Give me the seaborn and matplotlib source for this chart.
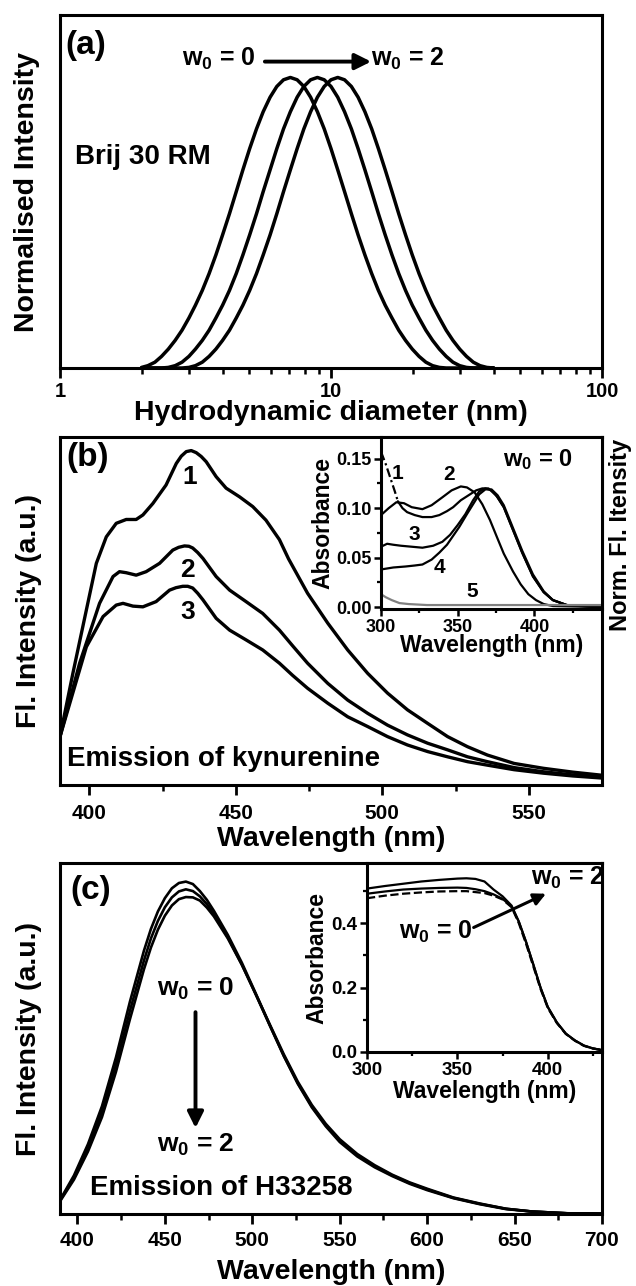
import matplotlib
matplotlib.use("Agg")
import matplotlib.pyplot as plt
import seaborn as sns
from matplotlib.ticker import (MultipleLocator, FixedLocator, NullFormatter,
                               FuncFormatter, LogLocator, FormatStrFormatter)

# ---------------- data ----------------
# (a) DLS size distributions (Brij 30 RM)
dia_a = [2.00, 2.11, 2.24, 2.37, 2.51, 2.66, 2.82, 2.99, 3.16, 3.35, 3.55, 3.76,
         3.98, 4.22, 4.47, 4.73, 5.01, 5.31, 5.62, 5.96, 6.31, 6.68, 7.08, 7.50,
         7.94, 8.41, 8.91, 9.44, 10.00, 10.59, 11.22, 11.89, 12.59, 13.34, 14.13,
         14.96, 15.85, 16.79, 17.78, 18.84, 19.95, 21.13, 22.39, 23.71, 25.12,
         26.61, 28.18, 29.85, 31.62, 33.50, 35.48, 37.58, 39.81]
int_a_w0 = [0.002, 0.008, 0.020, 0.040, 0.065, 0.095, 0.130, 0.172, 0.216, 0.267,
            0.325, 0.389, 0.458, 0.531, 0.607, 0.682, 0.755, 0.823, 0.882, 0.932,
            0.969, 0.992, 1.000, 0.992, 0.969, 0.932, 0.882, 0.823, 0.755, 0.682,
            0.607, 0.531, 0.458, 0.389, 0.325, 0.267, 0.216, 0.172, 0.130, 0.095,
            0.065, 0.040, 0.020, 0.008, 0.002, 0.0, 0.0, 0.0, 0.0, 0.0, 0.0, 0.0,
            0.0]
int_a_w1 = [0.0, 0.0, 0.0, 0.0, 0.002, 0.008, 0.020, 0.040, 0.065, 0.095, 0.130,
            0.172, 0.216, 0.267, 0.325, 0.389, 0.458, 0.531, 0.607, 0.682, 0.755,
            0.823, 0.882, 0.932, 0.969, 0.992, 1.000, 0.992, 0.969, 0.932, 0.882,
            0.823, 0.755, 0.682, 0.607, 0.531, 0.458, 0.389, 0.325, 0.267, 0.216,
            0.172, 0.130, 0.095, 0.065, 0.040, 0.020, 0.008, 0.002, 0.0, 0.0, 0.0,
            0.0]
int_a_w2 = [0.0, 0.0, 0.0, 0.0, 0.0, 0.0, 0.0, 0.002, 0.008, 0.020, 0.040, 0.065,
            0.095, 0.130, 0.172, 0.216, 0.267, 0.325, 0.389, 0.458, 0.531, 0.607,
            0.682, 0.755, 0.823, 0.882, 0.932, 0.969, 0.992, 1.000, 0.992, 0.969,
            0.932, 0.882, 0.823, 0.755, 0.682, 0.607, 0.531, 0.458, 0.389, 0.325,
            0.267, 0.216, 0.172, 0.130, 0.095, 0.065, 0.040, 0.020, 0.008, 0.002,
            0.0]
ticks_a = [1, 10, 100]

# (b) emission of kynurenine
b1_wl = [390, 394.4, 399, 402.4, 405.8, 409.2, 412.6, 416, 418.3, 421.7, 426.2,
         429.7, 431.4, 433.1, 434.8, 436.5, 438.2, 439.9, 443.3, 446.7, 451.3,
         455.8, 460.3, 464.9, 468, 474.5, 481.4, 488.2, 495, 501.8, 508.6, 515.5,
         522.3, 529.1, 535.9, 545, 555, 565, 575]
b1_y = [0.139, 0.321, 0.503, 0.637, 0.713, 0.752, 0.763, 0.763, 0.776, 0.809,
        0.862, 0.924, 0.945, 0.958, 0.961, 0.955, 0.944, 0.929, 0.886, 0.853,
        0.828, 0.800, 0.761, 0.705, 0.650, 0.551, 0.465, 0.388, 0.321, 0.264,
        0.216, 0.177, 0.139, 0.110, 0.086, 0.062, 0.048, 0.037, 0.028]
b2_wl = [390, 396.7, 403.5, 408.1, 410.3, 412.6, 416, 419.4, 424, 428.5, 430.5,
         432.5, 434, 435.3, 437, 438.8, 443.3, 447.9, 453.5, 459.2, 464.9, 469.4,
         474.5, 481.4, 488.2, 495, 501.8, 508.6, 515.5, 522.3, 529.1, 535.9, 545,
         555, 565, 575]
b2_y = [0.139, 0.350, 0.522, 0.599, 0.613, 0.610, 0.603, 0.613, 0.637, 0.675,
        0.683, 0.687, 0.686, 0.681, 0.668, 0.651, 0.599, 0.560, 0.527, 0.493,
        0.445, 0.400, 0.350, 0.292, 0.244, 0.206, 0.172, 0.144, 0.120, 0.101,
        0.081, 0.067, 0.050, 0.038, 0.029, 0.022]
b3_wl = [390, 399, 404.7, 409.2, 411.5, 414.9, 418.3, 422.8, 427.4, 429.6, 431.9,
         433.6, 435.3, 437, 438.8, 443.3, 447.9, 453.5, 459.2, 464.9, 469.4,
         474.5, 481.4, 488.2, 495, 501.8, 508.6, 515.5, 522.3, 529.1, 535.9, 545,
         555, 565, 575]
b3_y = [0.139, 0.397, 0.484, 0.517, 0.522, 0.514, 0.512, 0.527, 0.560, 0.567,
        0.571, 0.571, 0.566, 0.551, 0.532, 0.479, 0.445, 0.417, 0.388, 0.350,
        0.315, 0.278, 0.235, 0.196, 0.168, 0.139, 0.115, 0.096, 0.081, 0.067,
        0.057, 0.044, 0.034, 0.026, 0.020]

# (b) inset absorbance
ib1_wl = [300, 303, 306, 309, 311, 314, 317, 322, 327, 333, 338, 343, 347, 352,
          358, 362, 366, 370, 375, 380, 386, 392, 399, 406, 412, 421, 430, 445]
ib1_y = [0.157, 0.145, 0.131, 0.117, 0.107, 0.100, 0.096, 0.093, 0.091, 0.091,
         0.093, 0.097, 0.101, 0.108, 0.114, 0.118, 0.120, 0.120, 0.113, 0.101,
         0.078, 0.055, 0.031, 0.015, 0.007, 0.002, 0.001, 0.0]
ib2_wl = [300, 305, 310, 315, 320, 327, 333, 340, 346, 352, 356, 361, 366, 371,
          376, 380, 386, 391, 396, 401, 406, 412, 445]
ib2_y = [0.093, 0.100, 0.106, 0.105, 0.101, 0.099, 0.103, 0.111, 0.118, 0.122,
         0.121, 0.116, 0.104, 0.088, 0.069, 0.054, 0.036, 0.023, 0.013, 0.007,
         0.003, 0.001, 0.0]
ib3_wl = [300, 304, 308, 313, 320, 327, 334, 340, 345, 350, 355, 360, 364, 368,
          372, 376, 380, 386, 392, 399, 406, 412, 421, 445]
ib3_y = [0.061, 0.064, 0.063, 0.062, 0.061, 0.060, 0.062, 0.066, 0.073, 0.083,
         0.094, 0.108, 0.117, 0.120, 0.118, 0.111, 0.101, 0.078, 0.055, 0.031,
         0.015, 0.007, 0.002, 0.0]
ib4_wl = [300, 308, 316, 322, 327, 333, 338, 343, 347, 351, 356, 360, 364, 368,
          372, 376, 380, 386, 392, 399, 406, 412, 421, 445]
ib4_y = [0.038, 0.040, 0.041, 0.042, 0.043, 0.048, 0.055, 0.063, 0.072, 0.081,
         0.094, 0.104, 0.114, 0.119, 0.119, 0.113, 0.103, 0.080, 0.057, 0.033,
         0.016, 0.007, 0.002, 0.0]
ib5_wl = [300, 303, 307, 312, 318, 330, 350, 380, 410, 445]
ib5_y = [0.013, 0.010, 0.007, 0.004, 0.003, 0.002, 0.002, 0.002, 0.002, 0.002]

# (c) emission of H33258
c_wl = [390, 398, 406, 414, 422, 430, 438, 442, 446, 450, 454, 458, 462, 466, 470,
        474, 478, 486, 494, 502, 510, 518, 526, 534, 542, 550, 560, 570, 580, 590,
        600, 615, 630, 645, 660, 680, 700]
c_w0 = [0.040, 0.110, 0.199, 0.307, 0.446, 0.605, 0.750, 0.812, 0.862, 0.900,
        0.928, 0.943, 0.947, 0.940, 0.920, 0.895, 0.864, 0.795, 0.716, 0.628,
        0.538, 0.450, 0.371, 0.304, 0.250, 0.205, 0.164, 0.133, 0.108, 0.086,
        0.068, 0.045, 0.028, 0.014, 0.007, 0.002, 0.001]
c_w1 = [0.038, 0.104, 0.188, 0.291, 0.425, 0.579, 0.722, 0.785, 0.835, 0.874,
        0.902, 0.919, 0.925, 0.920, 0.905, 0.883, 0.855, 0.788, 0.711, 0.625,
        0.537, 0.451, 0.373, 0.307, 0.253, 0.209, 0.168, 0.136, 0.110, 0.088,
        0.070, 0.046, 0.029, 0.015, 0.007, 0.002, 0.001]
c_w2 = [0.036, 0.098, 0.178, 0.276, 0.405, 0.555, 0.697, 0.759, 0.810, 0.850,
        0.879, 0.897, 0.903, 0.902, 0.893, 0.873, 0.848, 0.785, 0.710, 0.626,
        0.540, 0.455, 0.377, 0.311, 0.257, 0.213, 0.171, 0.139, 0.112, 0.090,
        0.072, 0.047, 0.030, 0.015, 0.007, 0.002, 0.001]

# (c) inset absorbance
ic_wl = [300, 310, 320, 330, 340, 350, 355, 360, 365, 370, 375, 380, 384, 388,
         392, 396, 400, 405, 410, 415, 420, 425, 430]
ic_a = [0.508, 0.516, 0.523, 0.530, 0.535, 0.539, 0.540, 0.538, 0.530, 0.505,
        0.484, 0.455, 0.405, 0.342, 0.272, 0.200, 0.140, 0.092, 0.057, 0.036,
        0.020, 0.011, 0.006]
ic_b = [0.492, 0.499, 0.505, 0.508, 0.510, 0.511, 0.510, 0.506, 0.500, 0.490,
        0.476, 0.452, 0.405, 0.342, 0.272, 0.200, 0.140, 0.092, 0.057, 0.036,
        0.020, 0.011, 0.006]
ic_c = [0.478, 0.486, 0.492, 0.496, 0.499, 0.500, 0.500, 0.497, 0.494, 0.486,
        0.474, 0.450, 0.400, 0.336, 0.266, 0.196, 0.137, 0.090, 0.056, 0.035,
        0.019, 0.011, 0.006]

# ---------------- style ----------------
sns.set_theme(style="ticks")
plt.rcParams['font.family'] = ['Liberation Sans', 'DejaVu Sans']
plt.rcParams.update({
    'font.weight': 'bold', 'axes.labelweight': 'bold',
    'mathtext.fontset': 'custom', 'mathtext.rm': 'Liberation Sans:bold',
    'mathtext.bf': 'Liberation Sans:bold', 'mathtext.it': 'Liberation Sans:bold',
    'mathtext.default': 'bf',
    'axes.linewidth': 2.2, 'axes.edgecolor': 'black',
    'xtick.color': 'black', 'ytick.color': 'black',
    'text.color': 'black', 'axes.labelcolor': 'black',
    'xtick.direction': 'out', 'ytick.direction': 'out',
    'lines.solid_joinstyle': 'round', 'lines.solid_capstyle': 'round',
})

W, H = 636, 1286
fig = plt.figure(figsize=(W / 100, H / 100), dpi=100)


def frame(l, t, r, b):
    return [l / W, 1 - b / H, (r - l) / W, (b - t) / H]


def line(ax, x, y, lw=2.4, color='black', ls='-'):
    sns.lineplot(x=x, y=y, ax=ax, color=color, lw=lw, ls=ls, estimator=None,
                 sort=False, legend=False)


def style_ticks(ax, size=15, major=7, minor=4, width=2.0, pad=5):
    ax.tick_params(axis='both', which='major', length=major, width=width,
                   labelsize=size, pad=pad)
    ax.tick_params(axis='both', which='minor', length=minor, width=width * 0.9)


LBL = 20.5
arrow_kw = dict(arrowstyle='-|>', color='black', lw=2.8, mutation_scale=24,
                shrinkA=0, shrinkB=0)

# ---------------- panel (a) ----------------
axA = fig.add_axes(frame(60, 15, 602, 368))
for ys in (int_a_w0, int_a_w1, int_a_w2):
    line(axA, dia_a, ys, lw=2.5)
axA.set_xscale('log')
axA.set_xlim(1, 100)
axA.set_ylim(0, 1.215)
axA.xaxis.set_major_locator(FixedLocator(ticks_a))
axA.xaxis.set_major_formatter(FuncFormatter(lambda v, p: f"{v:g}"))
axA.xaxis.set_minor_locator(LogLocator(base=10, subs=range(2, 10)))
axA.xaxis.set_minor_formatter(NullFormatter())
axA.set_yticks([])
style_ticks(axA, size=14.5, pad=3)
axA.set_xlabel('Hydrodynamic diameter (nm)', fontsize=LBL, labelpad=-1)
axA.set_ylabel('Normalised Intensity', fontsize=LBL)
axA.yaxis.set_label_coords(-0.036, 0.5)
axA.text(0.01, 0.915, '(a)', transform=axA.transAxes, fontsize=24,
         va='center', ha='left')
axA.text(0.36, 0.875, 'w$_0$ = 0', transform=axA.transAxes, fontsize=18,
         va='center', ha='right')
axA.text(0.574, 0.875, 'w$_0$ = 2', transform=axA.transAxes, fontsize=18,
         va='center', ha='left')
axA.annotate('', xy=(0.574, 0.868), xytext=(0.378, 0.868),
             xycoords='axes fraction', arrowprops=arrow_kw)
axA.text(0.028, 0.598, 'Brij 30 RM', transform=axA.transAxes, fontsize=20,
         va='center', ha='left')

# ---------------- panel (b) ----------------
axB = fig.add_axes(frame(60, 437, 602, 785))
line(axB, b1_wl, b1_y)
line(axB, b2_wl, b2_y)
line(axB, b3_wl, b3_y)
axB.set_xlim(390, 575)
axB.set_ylim(0, 1)
axB.xaxis.set_major_locator(FixedLocator([400, 450, 500, 550]))
axB.xaxis.set_minor_locator(FixedLocator([425, 475, 525]))
axB.set_yticks([])
style_ticks(axB, pad=7)
axB.set_xlabel('Wavelength (nm)', fontsize=LBL, labelpad=2)
axB.set_ylabel('Fl. Intensity (a.u.)', fontsize=LBL)
axB.yaxis.set_label_coords(-0.034, 0.5)
axB.text(0.012, 0.94, '(b)', transform=axB.transAxes, fontsize=24,
         va='center', ha='left')
for lab, (xx, yy) in zip(['1', '2', '3'], [(434.2, 0.886), (433.6, 0.618),
                                           (433.6, 0.498)]):
    axB.text(xx, yy, lab, fontsize=19, ha='center', va='center')
axB.text(0.013, 0.075, 'Emission of kynurenine', transform=axB.transAxes,
         fontsize=20, va='center', ha='left')

# inset (b)
axBi = fig.add_axes(frame(381, 437, 602, 609))
line(axBi, ib1_wl[:5], ib1_y[:5], lw=1.6, ls=(0, (4, 1.5, 1, 1.5)))
line(axBi, ib1_wl[4:], ib1_y[4:], lw=1.6)
line(axBi, ib2_wl, ib2_y, lw=1.6)
line(axBi, ib3_wl, ib3_y, lw=1.6)
line(axBi, ib4_wl, ib4_y, lw=1.6)
line(axBi, ib5_wl, ib5_y, lw=1.6, color='#808080')
axBi.set_xlim(300, 444)
axBi.set_ylim(-0.002, 0.172)
axBi.xaxis.set_major_locator(FixedLocator([300, 350, 400]))
axBi.xaxis.set_minor_locator(FixedLocator([325, 375, 425]))
axBi.yaxis.set_major_locator(FixedLocator([0.0, 0.05, 0.10, 0.15]))
axBi.yaxis.set_minor_locator(FixedLocator([0.025, 0.075, 0.125]))
axBi.yaxis.set_major_formatter(FormatStrFormatter('%.2f'))
style_ticks(axBi, size=13, major=5, minor=3, width=1.8, pad=2)
axBi.set_xlabel('Wavelength (nm)', fontsize=16.5, labelpad=-1)
axBi.set_ylabel('Absorbance', fontsize=16.5, labelpad=1)
for lab, (xx, yy) in zip(['1', '2', '3', '4', '5'],
                         [(310.8, 0.135), (344.6, 0.134), (321.8, 0.073),
                          (338, 0.040), (359.7, 0.016)]):
    axBi.text(xx, yy, lab, fontsize=15, ha='center', va='center')
axBi.text(402, 0.149, 'w$_0$ = 0', fontsize=17, ha='center', va='center')
fig.text(620 / W, 1 - 535 / H, 'Norm. Fl. Itensity', rotation=90,
         fontsize=17, ha='center', va='center', fontweight='bold')

# ---------------- panel (c) ----------------
axC = fig.add_axes(frame(60, 863, 602, 1214))
line(axC, c_wl, c_w0, lw=1.9)
line(axC, c_wl, c_w1, lw=1.9)
line(axC, c_wl, c_w2, lw=1.9)
axC.set_xlim(390, 700)
axC.set_ylim(0, 1)
axC.xaxis.set_major_locator(MultipleLocator(50))
axC.xaxis.set_minor_locator(MultipleLocator(25))
axC.set_yticks([])
style_ticks(axC, pad=5)
axC.set_xlabel('Wavelength (nm)', fontsize=LBL, labelpad=7)
axC.set_ylabel('Fl. Intensity (a.u.)', fontsize=LBL)
axC.yaxis.set_label_coords(-0.034, 0.5)
axC.text(0.02, 0.923, '(c)', transform=axC.transAxes, fontsize=24,
         va='center', ha='left')
axC.text(467.5, 0.64, 'w$_0$ = 0', fontsize=19, ha='center', va='center')
axC.text(467.5, 0.198, 'w$_0$ = 2', fontsize=19, ha='center', va='center')
axC.annotate('', xy=(467.5, 0.245), xytext=(467.5, 0.575),
             arrowprops=arrow_kw)
axC.text(0.055, 0.075, 'Emission of H33258', transform=axC.transAxes,
         fontsize=20, va='center', ha='left')

# inset (c)
axCi = fig.add_axes(frame(367, 863, 602, 1052))
line(axCi, ic_wl, ic_a, lw=1.6)
line(axCi, ic_wl, ic_b, lw=1.6)
line(axCi, ic_wl, ic_c, lw=1.6, ls='--')
axCi.set_xlim(300, 430)
axCi.set_ylim(0, 0.5875)
axCi.xaxis.set_major_locator(FixedLocator([300, 350, 400]))
axCi.xaxis.set_minor_locator(FixedLocator([325, 375, 425]))
axCi.yaxis.set_major_locator(FixedLocator([0.0, 0.2, 0.4]))
axCi.yaxis.set_minor_locator(FixedLocator([0.1, 0.3, 0.5]))
axCi.yaxis.set_major_formatter(FormatStrFormatter('%.1f'))
style_ticks(axCi, size=13.5, major=5, minor=3, width=1.8, pad=2)
axCi.set_xlabel('Wavelength (nm)', fontsize=16.5, labelpad=1)
axCi.set_ylabel('Absorbance', fontsize=16.5, labelpad=2)
axCi.text(338, 0.372, 'w$_0$ = 0', fontsize=18, ha='center', va='center')
axCi.text(411, 0.54, 'w$_0$ = 2', fontsize=18, ha='center', va='center')
axCi.annotate('', xy=(399, 0.492), xytext=(359, 0.387),
              arrowprops=dict(arrowstyle='-|>', color='black', lw=2.2,
                              mutation_scale=18, shrinkA=0, shrinkB=0))

fig.savefig('out.png', dpi=100)
